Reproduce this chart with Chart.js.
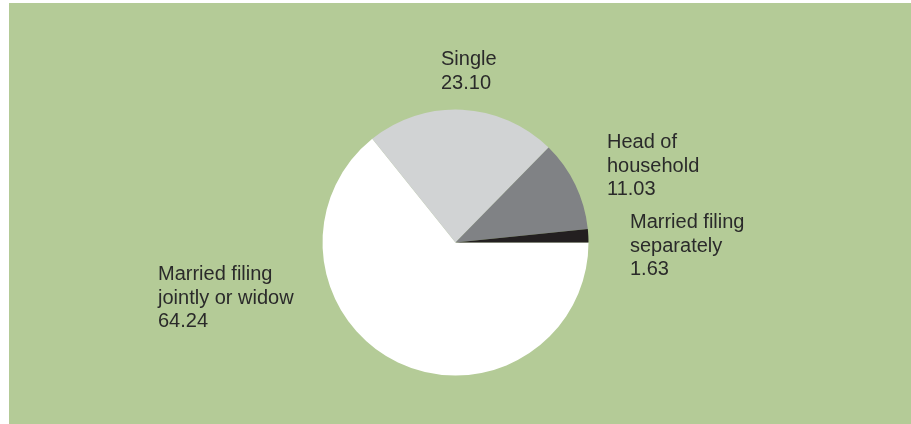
<!DOCTYPE html>
<html>
<head>
<meta charset="utf-8">
<style>
  html, body { margin: 0; padding: 0; background: #ffffff; }
  #wrap { position: relative; width: 911px; height: 424px; }
  canvas { display: block; }
</style>
<script src="https://cdn.jsdelivr.net/npm/chart.js@4/dist/chart.umd.min.js"></script>
</head>
<body>
<div id="wrap"><canvas id="pie" width="911" height="424"></canvas></div>
<script>
// Share of returns by filing status (percent)
const categories = [
  ['Married filing', 'jointly or widow'],
  ['Single'],
  ['Head of', 'household'],
  ['Married filing', 'separately']
];
const shares = [64.24, 23.10, 11.03, 1.63];
const sliceColors = ['#ffffff', '#d1d3d4', '#808285', '#231f20'];

// Where each slice's caption sits (left edge, first baseline)
const captionAnchors = [
  { x: 158, y: 280 },
  { x: 441, y: 65 },
  { x: 607, y: 148 },
  { x: 630, y: 228 }
];

const panelBackground = {
  id: 'panelBackground',
  beforeDraw(chart) {
    const ctx = chart.ctx;
    ctx.save();
    ctx.fillStyle = '#b4cb97';
    ctx.fillRect(9, 3, chart.width - 9, chart.height - 3);
    ctx.restore();
  }
};

const sliceCaptions = {
  id: 'sliceCaptions',
  afterDraw(chart) {
    const ctx = chart.ctx;
    ctx.save();
    ctx.font = '20px "Liberation Sans", Arial, sans-serif';
    ctx.fillStyle = '#2a2a2a';
    ctx.textAlign = 'left';
    ctx.textBaseline = 'alphabetic';
    const lineGap = 23.7;
    chart.data.labels.forEach((lines, i) => {
      const a = captionAnchors[i];
      const rows = lines.concat([chart.data.datasets[0].data[i].toFixed(2)]);
      rows.forEach((t, r) => ctx.fillText(t, a.x, a.y + r * lineGap));
    });
    ctx.restore();
  }
};

new Chart(document.getElementById('pie'), {
  type: 'pie',
  data: {
    labels: categories,
    datasets: [{
      data: shares,
      backgroundColor: sliceColors,
      borderWidth: 0
    }]
  },
  options: {
    responsive: false,
    devicePixelRatio: 1,
    animation: false,
    rotation: 90,
    layout: { padding: { top: 109.5, bottom: 48.5, left: 322.5, right: 322.5 } },
    plugins: {
      legend: { display: false },
      tooltip: { enabled: false }
    }
  },
  plugins: [panelBackground, sliceCaptions]
});
</script>
</body>
</html>
